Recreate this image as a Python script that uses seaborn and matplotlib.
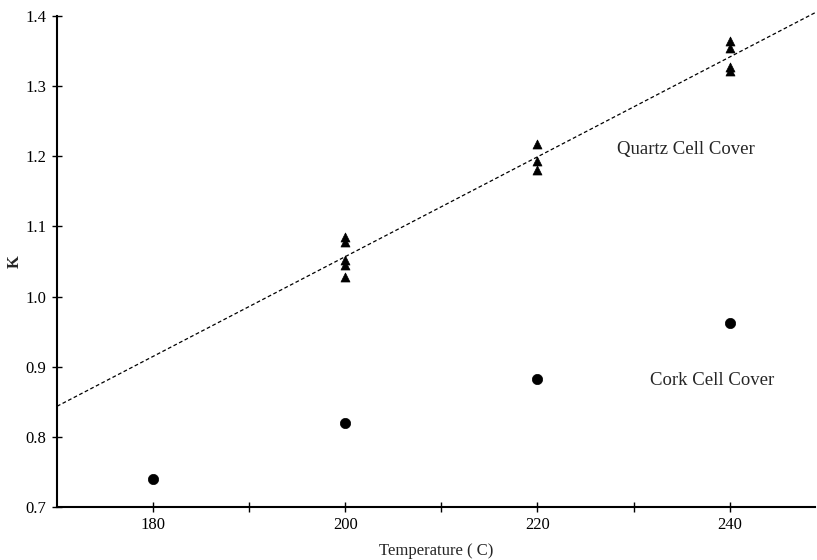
import matplotlib
matplotlib.use("Agg")
import matplotlib.pyplot as plt
import seaborn as sns
import pandas as pd

# Quartz cell cover (triangles)
quartz_temp = [200, 200, 200, 200, 200, 220, 220, 220, 240, 240, 240, 240]
quartz_k = [1.085, 1.078, 1.052, 1.045, 1.028, 1.217, 1.194, 1.181, 1.365, 1.355, 1.327, 1.322]

# Cork cell cover (circles)
cork_temp = [180, 200, 220, 240]
cork_k = [0.740, 0.820, 0.882, 0.963]

x_ticks = [180, 190, 200, 210, 220, 230, 240]
x_tick_labels = ["180", "", "200", "", "220", "", "240"]
y_ticks = [0.7, 0.8, 0.9, 1.0, 1.1, 1.2, 1.3, 1.4]

sns.set_theme(style="ticks")
plt.rcParams['font.family'] = ['Liberation Serif', 'DejaVu Serif']

quartz = pd.DataFrame({"T": quartz_temp, "K": quartz_k})
cork = pd.DataFrame({"T": cork_temp, "K": cork_k})

fig = plt.figure(figsize=(8.17, 5.6), dpi=100)
ax = fig.add_axes([0.0698, 0.0946, 0.928, 0.8768])
ax.set_xlim(170, 248.9)
ax.set_ylim(0.7, 1.4)

sns.regplot(data=quartz, x="T", y="K", ax=ax, ci=None, truncate=False,
            scatter=False, line_kws=dict(color="black", lw=0.9, ls=(0, (3, 2))))
for ln in ax.lines:
    ln.set_clip_on(False)
sns.scatterplot(data=quartz, x="T", y="K", ax=ax, marker="^", s=42,
                color="black", edgecolor="black", linewidth=0.5, zorder=3)
sns.scatterplot(data=cork, x="T", y="K", ax=ax, marker="o", s=55,
                color="black", edgecolor="black", linewidth=0.5, zorder=3)

ax.set_xlim(170, 248.9)
ax.set_ylim(0.7, 1.4)
ax.set_xticks(x_ticks)
ax.set_xticklabels(x_tick_labels)
ax.set_yticks(y_ticks)
ax.set_yticklabels([f"{v:.1f}" for v in y_ticks])
ax.tick_params(direction="inout", length=7, width=1.0, labelsize=12, colors="black", pad=4)
for s in ["top", "right"]:
    ax.spines[s].set_visible(False)
for s in ["left", "bottom"]:
    ax.spines[s].set_linewidth(1.5)
    ax.spines[s].set_color("black")

ax.set_xlabel("Temperature ( C)", fontsize=12, labelpad=7)
ax.set_ylabel("K", fontsize=12, fontweight="bold", labelpad=2)

ax.text(228.3, 1.209, "Quartz Cell Cover", fontsize=13.5, va="center", ha="left")
ax.text(231.7, 0.881, "Cork Cell Cover", fontsize=13.5, va="center", ha="left")

fig.savefig("out.png", dpi=100)
